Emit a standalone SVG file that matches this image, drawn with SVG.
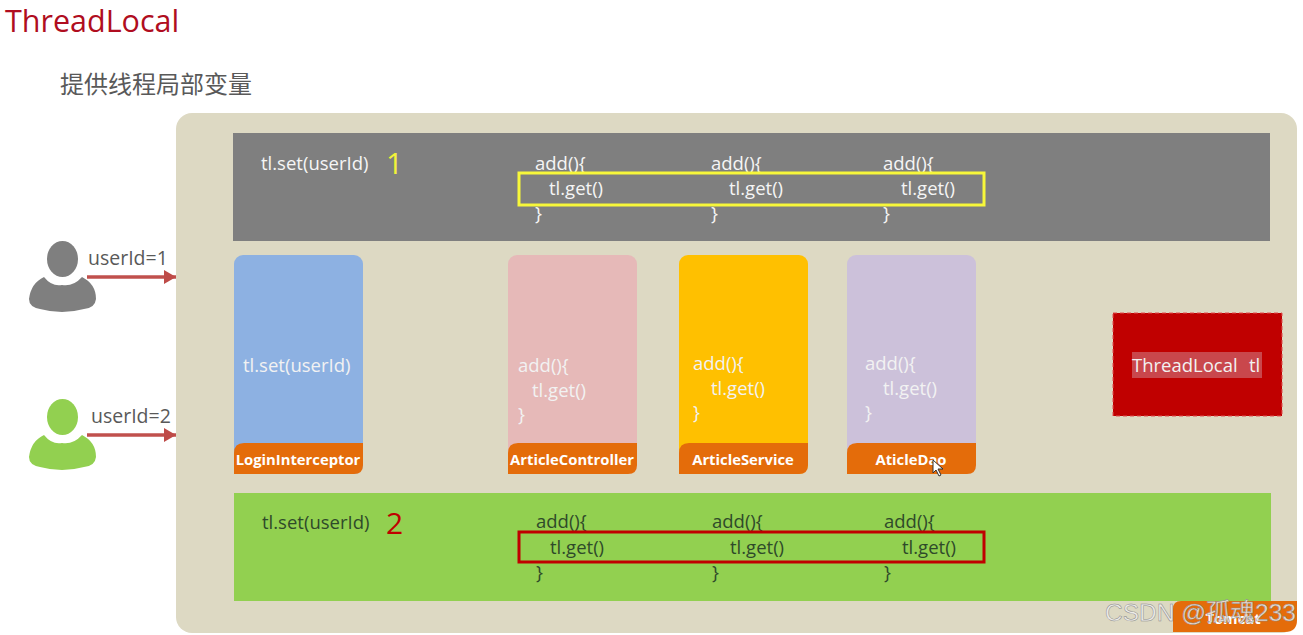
<svg xmlns="http://www.w3.org/2000/svg" width="1303" height="635" viewBox="0 0 1303 635">
<style>
text{font-family:"Open Sans","Noto Sans","Noto Sans CJK SC",sans-serif}
.w{fill:#f5f5f5;font-size:18.500px}
.p{fill:#f2f2f2;font-size:18.500px}
.d{fill:#2f4a2a;font-size:18.500px}
.tag{fill:#e46c0a}
.tt{fill:#fff;font-size:14.800px;font-weight:700;text-anchor:middle}
.u{fill:#595959;font-size:19.500px}
.ln{stroke:#c0504d;stroke-width:3.500;fill:none;marker-end:url(#a)}
</style>
<defs>
<marker id="a" markerUnits="userSpaceOnUse" markerWidth="13" markerHeight="14" refX="12" refY="7" orient="auto"><path d="M0 0L12 7L0 14Z" fill="#be4b48"/></marker>
</defs>
<rect width="1303" height="635" fill="#fff"/>
<text x="5" y="32" font-size="30.500" fill="#b00d20">ThreadLocal</text>
<text x="60" y="93" font-size="24" fill="#595959" style="font-family:'Noto Sans CJK SC',sans-serif">提供线程局部变量</text>
<g id="tomcat">
<rect x="176" y="113" width="1121" height="520" rx="16" fill="#ddd9c3"/>
<path d="M1181 601H1297V620Q1297 632 1285 632H1173V609Q1173 601 1181 601Z" class="tag"/>
<text x="1233" y="624" class="tt">Tomcat</text>
</g>
<g id="thread1">
<rect x="233" y="133" width="1037" height="108" fill="#7f7f7f"/>
<text x="261" y="170" class="w">tl.set(userId)</text>
<text x="386" y="174" font-size="30" fill="#f2f23a">1</text>
<text x="535" y="170" class="w">add(){</text><text x="549" y="195" class="w">tl.get()</text><text x="535" y="220" class="w">}</text>
<text x="711" y="170" class="w">add(){</text><text x="729" y="195" class="w">tl.get()</text><text x="711" y="220" class="w">}</text>
<text x="883" y="170" class="w">add(){</text><text x="901" y="195" class="w">tl.get()</text><text x="883" y="220" class="w">}</text>
<rect x="519" y="173" width="465" height="32" fill="none" stroke="#f7f73a" stroke-width="3"/>
</g>
<g id="thread2">
<rect x="234" y="493" width="1037" height="108" fill="#92d050"/>
<text x="262" y="529" class="d">tl.set(userId)</text>
<text x="386" y="534" font-size="30" fill="#c00000">2</text>
<text x="536" y="528" class="d">add(){</text><text x="550" y="554" class="d">tl.get()</text><text x="536" y="579" class="d">}</text>
<text x="712" y="528" class="d">add(){</text><text x="730" y="554" class="d">tl.get()</text><text x="712" y="579" class="d">}</text>
<text x="884" y="528" class="d">add(){</text><text x="902" y="554" class="d">tl.get()</text><text x="884" y="579" class="d">}</text>
<rect x="519" y="532" width="465" height="30" fill="none" stroke="#c00000" stroke-width="3"/>
</g>
<g id="login">
<rect x="234" y="255" width="129" height="219" rx="9" fill="#8db1e2"/>
<path d="M234 474V453Q234 443 244 443H363V465Q363 474 354 474Z" class="tag"/>
<text x="243" y="372" class="p">tl.set(userId)</text>
<text x="298" y="465" class="tt">LoginInterceptor</text>
</g>
<g id="controller">
<rect x="508" y="255" width="129" height="219" rx="9" fill="#e6b9b8"/>
<path d="M508 474V453Q508 443 518 443H637V465Q637 474 628 474Z" class="tag"/>
<text x="518" y="372" class="p">add(){</text><text x="532" y="397" class="p">tl.get()</text><text x="518" y="421" class="p">}</text>
<text x="572" y="465" class="tt">ArticleController</text>
</g>
<g id="service">
<rect x="679" y="255" width="129" height="219" rx="9" fill="#ffc000"/>
<path d="M679 474V453Q679 443 689 443H808V465Q808 474 799 474Z" class="tag"/>
<text x="693" y="370" class="p">add(){</text><text x="711" y="395" class="p">tl.get()</text><text x="693" y="419" class="p">}</text>
<text x="743" y="465" class="tt">ArticleService</text>
</g>
<g id="dao">
<rect x="847" y="255" width="129" height="219" rx="9" fill="#ccc1da"/>
<path d="M847 474V453Q847 443 857 443H976V465Q976 474 967 474Z" class="tag"/>
<text x="865" y="370" class="p">add(){</text><text x="883" y="395" class="p">tl.get()</text><text x="865" y="419" class="p">}</text>
<text x="911" y="465" class="tt">AticleDao</text>
</g>
<g id="threadlocal">
<rect x="1113" y="313" width="169" height="103" fill="#c00000" stroke="#e05050" stroke-dasharray="4 3"/>
<rect x="1132" y="352" width="130" height="26" fill="#c9474c"/>
<text x="1132" y="372" class="p">ThreadLocal</text><text x="1249" y="372" class="p">tl</text>
</g>
<g id="user1" fill="#7f7f7f">
<ellipse cx="62.500" cy="259" rx="15.500" ry="18"/>
<path d="M44 277Q52 287 62 285Q73 287 82 277Q96 284 96 299Q95 308 84 309Q62 315 40 309Q29 307 29 299Q31 283 44 277Z"/>
<text x="88" y="265" class="u">userId=1</text>
</g>
<g id="user2" fill="#92d050">
<ellipse cx="62.500" cy="417" rx="15.500" ry="18"/>
<path d="M44 435Q52 445 62 443Q73 445 82 435Q96 442 96 457Q95 466 84 467Q62 473 40 467Q29 465 29 457Q31 441 44 435Z"/>
<text x="91" y="423" class="u">userId=2</text>
</g>
<g id="connectors">
<line x1="87" y1="277" x2="176" y2="277" class="ln"/>
<line x1="87" y1="435" x2="176" y2="435" class="ln"/>
</g>
<path d="M933 460V473L936 470L939 476L941 475L938 469L943 469Z" fill="#fff" stroke="#333" stroke-width="1"/>
<text x="1105" y="621" font-size="24.500" fill="#f0f0f0" stroke="#888" stroke-width=".5" fill-opacity=".85" style="font-family:'Liberation Sans','Noto Sans CJK SC',sans-serif">CSDN @孤魂233</text>
</svg>
